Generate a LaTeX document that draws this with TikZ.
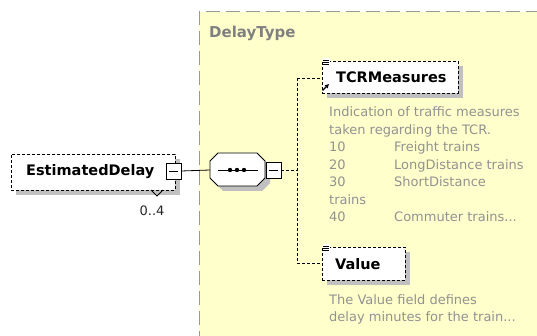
\documentclass[tikz,border=0pt]{standalone}
\usepackage{fontspec}
\setmainfont{DejaVu Sans}
\usetikzlibrary{shadows,calc,arrows.meta}
\definecolor{typebg}{HTML}{FFFFCC}
\definecolor{typeedge}{HTML}{999999}
\definecolor{shadowc}{HTML}{C0C0C0}
\definecolor{doctext}{HTML}{929292}
\tikzset{
  elembox/.style={draw=black, fill=white, line width=0.9pt, dash pattern=on 3pt off 2pt,
    rectangle, inner sep=0pt, anchor=north west,
    drop shadow={shadow xshift=5pt, shadow yshift=-5pt, opacity=1, fill=shadowc}},
  elemname/.style={font=\fontsize{14.5}{16}\selectfont\bfseries, text=black, inner sep=0pt, anchor=west},
  doc/.style={font=\fontsize{13}{15}\selectfont, text=doctext, inner sep=0pt, anchor=base west},
  minusbox/.style={draw=black, fill=white, line width=0.8pt, rectangle, inner sep=0pt,
    minimum width=15pt, minimum height=16pt},
  conn/.style={line width=0.8pt},
  dconn/.style={line width=0.9pt, dash pattern=on 3pt off 2pt},
  listicon/.style={line width=0.7pt},
}
\begin{document}
\begin{tikzpicture}[x=1pt,y=-1pt]
\useasboundingbox (0,0) rectangle (537,336);

% complex type area
\fill[typebg] (199,12) rectangle (545,345);
\draw[typeedge, line width=1pt, dash pattern=on 14pt off 6pt] (199,345) -- (199,12) -- (545,12);
\node[font=\fontsize{15}{17}\selectfont\bfseries, text=gray, anchor=west, inner sep=0pt] (typename) at (209,33) {DelayType};

% root element
\node[elembox, minimum width=164pt, minimum height=36pt] (est) at (11,154) {};
\node[elemname] (estname) at (26,172) {EstimatedDelay};
\node[minusbox] (estminus) at (173.5,171) {};
\draw[line width=0.8pt] ($(estminus.center)+(-4.5,0)$) -- ($(estminus.center)+(4.5,0)$);
\draw[line width=0.8pt] (151,190) -- (157,196) -- (163,190);
\node[font=\fontsize{13}{15}\selectfont, text=black!85, inner sep=0pt] (occ) at (152,211) {0..4};

% sequence compositor
\coordinate (seqw) at (210,170);
\fill[shadowc] (223,158) -- (262,158) -- (270,166) -- (270,183) -- (262,191) -- (223,191) -- (215,183) -- (215,166) -- cycle;
\draw[line width=0.8pt, fill=white] (218,153) -- (257,153) -- (265,161) -- (265,178) -- (257,186) -- (218,186) -- (210,178) -- (210,161) -- cycle;
\draw[line width=0.8pt] (218,170) -- (258,170);
\foreach \dx in {230,237,244} \fill (\dx,170) circle (2.2pt);
\node[minusbox] (seqminus) at (273.5,170) {};
\draw[line width=0.8pt] ($(seqminus.center)+(-4.5,0)$) -- ($(seqminus.center)+(4.5,0)$);
\draw[conn] (estminus.east) -- (seqw);

% branches to children
\coordinate (trunk) at (297,170);
\coordinate (btop) at (297,78);
\coordinate (bbot) at (297,263);
\draw[dconn] (seqminus.east) -- (trunk);
\draw[dconn] (btop) -- (bbot);

% TCRMeasures
\node[elembox, minimum width=136pt, minimum height=32pt] (tcr) at (322,61) {};
\node[elemname] (tcrname) at (336,77.5) {TCRMeasures};
\draw[dconn] (btop) -- (tcr.west |- btop);
\fill[white] (322.5,58.5) rectangle (329.5,66.5);
\draw[listicon] (323,60) -- (329,60) (323,62.3) -- (329,62.3) (323,64.6) -- (329,64.6);
\draw[line width=1.4pt, -{Latex[length=4pt,width=5pt]}] (322.5,90.5) -- (329,84);

\node[doc] (d1) at (329,117) {Indication of traffic measures};
\node[doc] (d2) at (329,134.5) {taken regarding the TCR.};
\node[doc] (d3a) at (329,152) {10};
\node[doc] (d3b) at (394,152) {Freight trains};
\node[doc] (d4a) at (329,169.5) {20};
\node[doc] (d4b) at (394,169.5) {LongDistance trains};
\node[doc] (d5a) at (329,187) {30};
\node[doc] (d5b) at (394,187) {ShortDistance};
\node[doc] (d6) at (329,204.5) {trains};
\node[doc] (d7a) at (329,222) {40};
\node[doc] (d7b) at (394,222) {Commuter trains...};

% Value
\node[elembox, minimum width=83pt, minimum height=33pt] (val) at (322,247) {};
\node[elemname] (valname) at (335,264.5) {Value};
\draw[dconn] (bbot) -- (val.west |- bbot);
\fill[white] (322.5,244.5) rectangle (329.5,252.5);
\draw[listicon] (323,246) -- (329,246) (323,248.3) -- (329,248.3) (323,250.6) -- (329,250.6);

\node[doc] (v1) at (329,304) {The Value field defines};
\node[doc] (v2) at (329,321.5) {delay minutes for the train...};
\end{tikzpicture}
\end{document}
